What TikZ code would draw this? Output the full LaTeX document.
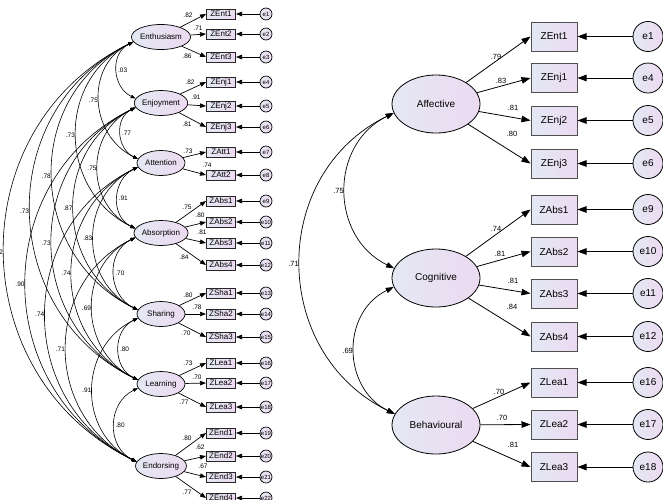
\documentclass[tikz,border=0pt]{standalone}
\usepackage{fontspec}
\setmainfont{Liberation Sans}
\usepackage{tikz}
\usetikzlibrary{shapes.geometric,arrows.meta}
\definecolor{fillL}{RGB}{228,232,243}
\definecolor{fillR}{RGB}{236,218,241}
\definecolor{boxline}{RGB}{80,80,80}

\begin{document}
\begin{tikzpicture}[x=1pt,y=-1pt,
  shade/.style={left color=fillL,right color=fillR},
  smlat/.style={ellipse,draw,shade,line width=.7pt,inner sep=0pt,minimum width=48,minimum height=25,font=\fontsize{8}{8}\selectfont},
  biglat/.style={ellipse,draw,shade,line width=.8pt,inner sep=0pt,minimum width=88,minimum height=58,font=\fontsize{10}{10}\selectfont},
  smbox/.style={rectangle,draw=black!85,shade,line width=1pt,inner sep=1pt,minimum width=29,minimum height=10,font=\fontsize{8}{8}\selectfont},
  bigbox/.style={rectangle,draw=boxline,shade,line width=1pt,inner sep=1pt,minimum width=46,minimum height=29,font=\fontsize{10}{10}\selectfont},
  smerr/.style={circle,draw,shade,line width=.7pt,inner sep=0pt,minimum size=12,font=\fontsize{6}{6}\selectfont},
  bigerr/.style={circle,draw,shade,line width=.8pt,inner sep=0pt,minimum size=30,font=\fontsize{10}{10}\selectfont},
  smarr/.style={-{Triangle[length=6pt,width=4.5pt]},line width=.7pt},
  bigarr/.style={-{Triangle[length=9pt,width=6.5pt]},line width=.8pt},
  smcov/.style={{Triangle[length=5pt,width=3.5pt]}-{Triangle[length=5pt,width=3.5pt]},line width=.6pt,out=206,in=154,looseness=1.18},
  bigcov/.style={{Triangle[length=8pt,width=5.5pt]}-{Triangle[length=8pt,width=5.5pt]},line width=.7pt,out=206,in=154,looseness=1.18},
  smnum/.style={inner sep=1pt,font=\fontsize{6.5}{6.5}\selectfont},
  bignum/.style={inner sep=1.5pt,font=\fontsize{7.5}{7.5}\selectfont}]
\useasboundingbox (0,0) rectangle (663,499);

% first-order model
\foreach \n/\t/\y in {ent/Enthusiasm/37,enj/Enjoyment/103,att/Attention/163,abs/Absorption/233,sha/Sharing/314,lea/Learning/384,endo/Endorsing/466}
  \node[smlat] (\n) at (161,\y) {\t};
\foreach \b/\y/\e in {Ent1/14/1,Ent2/34/2,Ent3/57/3,Enj1/82/4,Enj2/106/5,Enj3/127/6,Att1/152/7,Att2/175/8,Abs1/201/9,Abs2/222/10,Abs3/243/11,Abs4/265/12,Sha1/293/13,Sha2/314/14,Sha3/337/15,Lea1/363/16,Lea2/383/17,Lea3/407/18,End1/433/19,End2/456/20,End3/477/21,End4/498/22}{
  \node[smbox] (l\b) at (221,\y) {Z\b};
  \node[smerr] (le\e) at (266,\y) {e\e};
  \draw[smarr] (le\e) -- (l\b);
}
\foreach \f/\b/\v/\lx/\ly in {ent/Ent1/.82/188/15,ent/Ent2/.71/198/28,ent/Ent3/.86/187/56,
    enj/Enj1/.82/190/82,enj/Enj2/.91/196/97,enj/Enj3/.81/187/124,
    att/Att1/.73/188/151,att/Att2/.74/207/165,
    abs/Abs1/.75/187/207,abs/Abs2/.80/200/215,abs/Abs3/.81/202/232,abs/Abs4/.84/184/257,
    sha/Sha1/.80/188/295,sha/Sha2/.78/197/307,sha/Sha3/.70/186/333,
    lea/Lea1/.73/188/363,lea/Lea2/.70/197/377,lea/Lea3/.77/184/402,
    endo/End1/.80/187/438,endo/End2/.62/200/447,endo/End3/.67/203/466,endo/End4/.77/187/492}{
  \draw[smarr] (\f) -- (l\b.west);
  \node[smnum] (ll\b) at (\lx,\ly) {\v};
}
\foreach \fa/\fb/\v/\side in {ent/enj/.03/right,enj/att/.77/right,att/abs/.91/right,abs/sha/.70/right,sha/lea/.80/right,lea/endo/.80/right,
    ent/att/.75/left,enj/abs/.75/left,att/sha/.83/left,abs/lea/.69/left,sha/endo/.91/left,
    ent/abs/.73/left,enj/sha/.87/left,att/lea/.74/left,abs/endo/.71/left,
    ent/sha/.78/left,enj/lea/.73/left,att/endo/.74/left,
    ent/lea/.73/left,enj/endo/.90/left,ent/endo/.82/left}
  \draw[smcov] (\fa.190) to node[smnum,\side] (c\fa\fb) {\v} (\fb.170);

% second-order model
\node[biglat] (aff) at (436,104) {Affective};
\node[biglat] (cog) at (436,278) {Cognitive};
\node[biglat] (beh) at (436,425) {Behavioural};
\foreach \b/\y/\e in {Ent1/36.5/1,Enj1/78/4,Enj2/120.5/5,Enj3/163.5/6,Abs1/209.5/9,Abs2/251.5/10,Abs3/293.5/11,Abs4/336.5/12,Lea1/382.5/16,Lea2/424.5/17,Lea3/467/18}{
  \node[bigbox] (r\b) at (554,\y) {Z\b};
  \node[bigerr] (re\e) at (648,\y) {e\e};
  \draw[bigarr] (re\e) -- (r\b);
}
\foreach \f/\b/\v/\lx/\ly in {aff/Ent1/.79/496/57,aff/Enj1/.83/501/81,aff/Enj2/.81/513/108,aff/Enj3/.80/512/134,
    cog/Abs1/.74/496/229,cog/Abs2/.81/500/254,cog/Abs3/.81/513/281,cog/Abs4/.84/512/307,
    beh/Lea1/.70/499/392,beh/Lea2/.70/502/418,beh/Lea3/.81/513/445}{
  \draw[bigarr] (\f) -- (r\b.west);
  \node[bignum] (rl\b) at (\lx,\ly) {\v};
}
\draw[bigcov] (aff.192) to node[bignum,left] (caffcog) {.75} (cog.167);
\draw[bigcov] (cog.192) to node[bignum,left] (ccogbeh) {.69} (beh.165);
\draw[bigcov] (aff.192) to node[bignum,left] (caffbeh) {.71} (beh.165);
\end{tikzpicture}
\end{document}
